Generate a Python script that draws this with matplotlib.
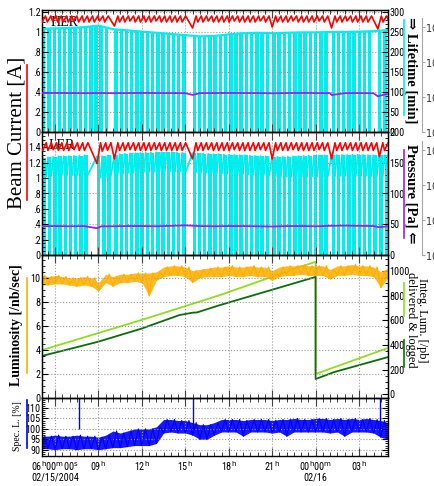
import numpy as np
import matplotlib
matplotlib.use("Agg")
import matplotlib.pyplot as plt
from matplotlib import font_manager as fm
from matplotlib.lines import Line2D
from matplotlib.ticker import MultipleLocator, FixedLocator, FuncFormatter, NullLocator

# ---------------- data (time in hours since 02/15 06:00) ----------------
hours = [0, 3, 6, 9, 12, 15, 18, 21]
hour_labels = [r"06$^{\rm h}$00$^{\rm m}$00$^{\rm s}$" + "\n02/15/2004",
               r"09$^{\rm h}$", r"12$^{\rm h}$", r"15$^{\rm h}$", r"18$^{\rm h}$",
               r"21$^{\rm h}$", r"00$^{\rm h}$00$^{\rm m}$" + "\n02/16", r"03$^{\rm h}$"]

# HER: injection start times, current at injection start (A)
her_inj = [-0.90, -0.53, -0.17, 0.19, 0.55, 0.91, 1.27, 1.63, 1.99, 2.35, 2.71, 3.07, 3.43,
           4.10, 4.46, 4.82, 5.18, 5.54, 5.90, 6.26, 6.62, 6.98, 7.34, 7.70, 8.06, 8.42, 8.78,
           9.50, 9.86, 10.22, 10.58, 10.94, 11.30, 11.66, 12.02, 12.38, 12.74, 13.10, 13.46, 13.82, 14.18, 14.54,
           15.00, 15.36, 15.72, 16.08, 16.44, 16.80, 17.16, 17.52, 17.88, 18.24, 18.60,
           19.10, 19.46, 19.82, 20.18, 20.54, 20.90, 21.26, 21.62,
           22.30, 22.66]
her_low = [1.10, 1.10, 1.11, 1.10, 1.10, 1.10, 1.11, 1.10, 1.10, 1.10, 1.10, 1.11, 1.10,
           1.06, 1.10, 1.10, 1.11, 1.10, 1.10, 1.10, 1.10, 1.11, 1.10, 1.10, 1.10, 1.10, 1.10,
           1.04, 1.10, 1.10, 1.11, 1.10, 1.10, 1.10, 1.10, 1.11, 1.10, 1.10, 1.10, 1.10, 1.11, 1.10,
           1.05, 1.10, 1.10, 1.10, 1.11, 1.10, 1.10, 1.10, 1.10, 1.11, 1.10,
           1.04, 1.10, 1.10, 1.11, 1.10, 1.10, 1.10, 1.10,
           1.03, 1.10]
her_peak = 1.16
her_end = 1.13
inj_len = 0.24

# HER lifetime (min), hourly
lt_t = [-0.9, 0, 1, 2, 3, 4, 5, 6, 7, 8, 9, 10, 11, 12, 13, 14, 15, 16, 17, 18, 19, 20, 21, 22, 23]
her_lt = [258, 259, 260, 262, 266, 257, 254, 251, 248, 245, 242, 239, 240, 244, 247, 248,
          247, 248, 249, 249, 250, 250, 251, 252, 255]

# LER
ler_inj = [-0.85, -0.49, -0.13, 0.23, 0.59, 0.95, 1.31, 1.67, 2.03,
           2.90, 3.26, 3.62,
           4.10, 4.46, 4.82, 5.18, 5.54, 5.90, 6.26, 6.62, 6.98, 7.34, 7.70, 8.06, 8.42, 8.78,
           9.50, 9.86, 10.22, 10.58, 10.94, 11.30, 11.66, 12.02, 12.38, 12.74, 13.10, 13.46, 13.82, 14.18, 14.54,
           15.00, 15.36, 15.72, 16.08, 16.44, 16.80, 17.16, 17.52, 17.88, 18.24, 18.60,
           19.10, 19.46, 19.82, 20.18, 20.54, 20.90, 21.26, 21.62, 21.98,
           22.40, 22.76]
ler_low = [1.36, 1.36, 1.37, 1.36, 1.36, 1.36, 1.37, 1.36, 1.36,
           1.19, 1.35, 1.36,
           1.25, 1.36, 1.36, 1.37, 1.36, 1.36, 1.36, 1.36, 1.37, 1.36, 1.36, 1.36, 1.36, 1.36,
           1.25, 1.36, 1.36, 1.37, 1.36, 1.36, 1.36, 1.36, 1.37, 1.36, 1.36, 1.36, 1.36, 1.37, 1.36,
           1.25, 1.36, 1.36, 1.36, 1.37, 1.36, 1.36, 1.36, 1.36, 1.37, 1.36,
           1.25, 1.36, 1.36, 1.37, 1.36, 1.36, 1.36, 1.36, 1.36,
           1.28, 1.36]
ler_peak = 1.46
ler_end = 1.42
ler_lt_hi = [158, 160, 161, 162, 160, 163, 165, 166, 167, 167, 166, 165, 164, 163, 162, 161,
             160, 160, 161, 162, 162, 163, 163, 162, 162]
ler_lt_lo = [128, 130, 130, 131, 125, 132, 134, 135, 136, 136, 135, 134, 133, 132, 131, 130,
             128, 127, 127, 128, 128, 129, 129, 128, 128]

# Pressure (Pa)
her_p_t = [-0.9, 0, 1, 2, 3, 4, 5, 6, 7, 8, 9, 9.5, 10, 11, 12, 13, 14, 15, 16, 17, 18, 19, 19.1, 20, 21, 22, 22.3, 23]
her_p = [1.30e-8, 1.31e-8, 1.30e-8, 1.29e-8, 1.30e-8, 1.29e-8, 1.30e-8, 1.31e-8, 1.30e-8, 1.30e-8, 1.29e-8,
         1.15e-8, 1.29e-8, 1.30e-8, 1.31e-8, 1.30e-8, 1.30e-8, 1.28e-8, 1.30e-8, 1.31e-8, 1.30e-8, 1.29e-8,
         1.14e-8, 1.29e-8, 1.30e-8, 1.28e-8, 1.05e-8, 1.25e-8]
ler_p_t = [-0.9, 0, 1, 2, 2.9, 3.2, 4, 5, 6, 7, 8, 9, 10, 11, 12, 13, 14, 15, 16, 17, 18, 19, 20, 21, 22, 22.4, 23]
ler_p = [6.6e-9, 6.7e-9, 6.6e-9, 6.7e-9, 5.8e-9, 6.6e-9, 6.6e-9, 6.7e-9, 6.7e-9, 6.6e-9, 6.8e-9, 7.0e-9,
         6.7e-9, 6.6e-9, 6.7e-9, 6.7e-9, 6.6e-9, 6.5e-9, 6.7e-9, 6.7e-9, 6.6e-9, 6.8e-9, 6.9e-9, 6.8e-9,
         6.7e-9, 6.2e-9, 6.6e-9]

# Luminosity (/nb/sec) and specific luminosity (%) envelopes, half-hourly
env_t = [-0.9, -0.5, 0.0, 0.5, 1.0, 1.5, 2.0, 2.5, 3.0, 3.5, 4.0, 4.5, 5.0, 5.5, 6.0, 6.5, 7.0, 7.5,
         8.0, 8.5, 9.0, 9.5, 10.0, 10.5, 11.0, 11.5, 12.0, 12.5, 13.0, 13.5, 14.0, 14.5, 15.0, 15.5,
         16.0, 16.5, 17.0, 17.5, 18.0, 18.5, 19.0, 19.5, 20.0, 20.5, 21.0, 21.5, 22.0, 22.5, 23.0]
lum_lo = [9.4, 9.4, 9.5, 9.5, 9.4, 9.3, 9.4, 9.3, 8.9, 9.6, 9.3, 9.6, 9.6, 9.7, 9.6, 8.5, 9.8, 10.1,
          10.2, 10.2, 10.1, 9.6, 10.0, 10.1, 10.1, 10.1, 10.2, 10.1, 10.1, 10.2, 10.1, 10.1, 9.8, 10.1,
          10.2, 10.2, 10.3, 10.2, 10.2, 10.2, 9.9, 10.2, 10.2, 10.3, 10.2, 10.2, 10.1, 9.2, 10.0]
lum_hi = [10.2, 10.1, 10.2, 10.1, 10.0, 10.0, 10.1, 10.0, 9.6, 10.3, 10.1, 10.3, 10.3, 10.4, 10.4, 10.4, 10.5, 10.9,
          11.0, 11.0, 10.9, 10.6, 10.7, 10.8, 10.9, 10.9, 11.0, 10.9, 10.9, 11.0, 10.9, 10.9, 10.6, 10.9,
          11.0, 11.0, 11.1, 11.0, 11.0, 11.0, 10.7, 11.0, 11.0, 11.1, 11.0, 11.0, 10.9, 10.5, 10.8]
spec_lo = [90.5, 90.5, 90.0, 90.5, 90.5, 90.0, 90.5, 90.5, 90.0, 90.5, 91.0, 91.0, 91.5, 92.0, 92.0, 92.0, 93.0, 98.0,
           98.5, 98.0, 98.0, 97.0, 95.0, 95.0, 97.0, 98.5, 98.5, 98.5, 96.5, 98.5, 98.5, 98.5, 98.0, 98.5,
           96.5, 98.5, 98.5, 98.5, 98.5, 98.5, 98.0, 98.5, 96.5, 98.5, 98.5, 98.5, 98.0, 96.0, 95.0]
spec_hi = [96.5, 96.5, 97.0, 96.5, 96.5, 97.0, 96.5, 96.5, 96.0, 97.0, 99.0, 98.0, 99.0, 100.0, 100.0, 100.0, 101.0, 104.5,
           104.5, 104.0, 104.0, 103.0, 102.0, 102.0, 103.0, 104.5, 104.5, 104.5, 104.0, 104.5, 104.5, 104.5, 104.0, 104.5,
           104.5, 105.0, 104.5, 104.5, 105.0, 105.0, 104.5, 105.0, 104.5, 105.0, 104.5, 105.0, 104.5, 104.0, 103.0]
spike_t = [1.66, 9.52, 22.48]
spike_top = [115, 115, 115]

# Integrated luminosity (/pb): delivered and logged
deliv_t = [-0.9, 5.9, 11.4, 16.7, 18.0, 18.0, 23.0]
deliv_v = [359, 600, 805, 1024, 1075, 165, 376]
logged_t = [-0.9, 2.9, 5.9, 8.6, 9.5, 9.8, 11.4, 18.0, 18.0, 19.3, 23.0]
logged_v = [311, 424, 530, 643, 662, 664, 724, 952, 124, 181, 302]

# ---------------- fonts ----------------
def _find(fam, stretch):
    try:
        return fm.findfont(fm.FontProperties(family=fam, stretch=stretch), fallback_to_default=False)
    except Exception:
        return None

NARROW, STRETCH, TSIZE = ["DejaVu Sans"], "normal", 6.3
for fam, st in [("Liberation Sans Narrow", "normal"), ("Roboto Condensed", "normal"),
                ("Noto Sans Condensed", "normal"), ("DejaVu Sans Condensed", "normal"),
                ("Open Sans Condensed", "normal"), ("Noto Sans", "condensed"),
                ("DejaVu Sans", "condensed"), ("Roboto", "condensed"), ("Open Sans", "condensed")]:
    p = _find(fam, st)
    if p and ("arrow" in p or "ondensed" in p):
        NARROW, STRETCH, TSIZE = [fam, "DejaVu Sans"], st, 7.3
        break

SERIF = ["Liberation Serif", "DejaVu Serif"]

# ---------------- figure ----------------
W, H = 435, 486
fig = plt.figure(figsize=(W / 100, H / 100), dpi=100)
fig.patch.set_facecolor("white")

def rect(x0, y0, x1, y1):
    return [x0 / W, 1 - y1 / H, (x1 - x0) / W, (y1 - y0) / H]

XL = (-0.9, 23.0)
C_RED, C_CYAN, C_PUR = "#ff0000", "#00eeee", "#9a1ff0"
C_ORA, C_LG, C_DG, C_BLUE = "#ffb000", "#8ee01c", "#0a6e0a", "#0000ff"
GRID = dict(color="#9a9a9a", linestyle=":", linewidth=0.8)

def fontify(labels, size=None):
    for lab in labels:
        lab.set_family(NARROW)
        lab.set_stretch(STRETCH)
        lab.set_fontsize(size or TSIZE)

def style_x(ax, grid=True):
    ax.set_xlim(*XL)
    ax.xaxis.set_major_locator(FixedLocator(hours))
    ax.xaxis.set_minor_locator(MultipleLocator(0.5))
    ax.tick_params(axis="x", which="both", direction="in", top=True, bottom=True, labelbottom=False)
    ax.tick_params(axis="x", which="major", length=6, width=0.8, color="#444444")
    ax.tick_params(axis="x", which="minor", length=3, width=0.6, color="#222222")
    if grid:
        ax.xaxis.grid(True, which="major", **GRID)
    for s in ax.spines.values():
        s.set_linewidth(1.0)

def style_y(ax, major, minor, fmt, side="left"):
    ax.yaxis.set_major_locator(MultipleLocator(major))
    ax.yaxis.set_minor_locator(MultipleLocator(minor))
    ax.yaxis.set_major_formatter(FuncFormatter(fmt))
    kw = dict(direction="in", pad=1.0)
    if side == "left":
        ax.tick_params(axis="y", which="both", left=True, right=False, labelleft=True, labelright=False, **kw)
    else:
        ax.tick_params(axis="y", which="both", left=False, right=True, labelleft=False, labelright=True, **kw)
    ax.tick_params(axis="y", which="major", length=4.5, width=0.8)
    ax.tick_params(axis="y", which="minor", length=2.2, width=0.6)
    fontify(ax.get_yticklabels())

def dotfmt(limit=None):
    def f(v, pos):
        if limit is not None and v > limit:
            return ""
        s = f"{v:.1f}".rstrip("0").rstrip(".")
        if s.startswith("0."):
            s = s[1:]
        return s
    return f

def intfmt(limit=None):
    def f(v, pos):
        if limit is not None and v > limit:
            return ""
        return f"{v:.0f}"
    return f

def saw(inj, low, peak, end):
    tt, vv = [], []
    for t0, lo in zip(inj, low):
        tt += [t0, t0 + inj_len]
        vv += [lo, peak]
    tt.append(XL[1])
    vv.append(end)
    return tt, vv

def log_axis(host, ylim_hi, bound_hi):
    axp = host.twinx()
    axp.set_yscale("log")
    axp.set_ylim(1e-9, ylim_hi)
    axp.spines["right"].set_position(("outward", 24.5))
    axp.spines["right"].set_color("#a8a8a8")
    axp.spines["right"].set_bounds(1e-9, bound_hi)
    for k in ("left", "top", "bottom"):
        axp.spines[k].set_visible(False)
    axp.yaxis.set_major_locator(FixedLocator([1e-9, 1e-8, 1e-7, 1e-6]))
    axp.yaxis.set_minor_locator(NullLocator())
    axp.tick_params(axis="y", which="major", direction="out", length=2, color="#a8a8a8",
                    labelsize=7, pad=0.3, labelcolor="#333333")
    return axp

def zig(t, lo, hi):
    zt, zv = [], []
    for i in range(len(t) - 1):
        zt += [t[i], 0.5 * (t[i] + t[i + 1])]
        zv += [lo[i], hi[i]]
    zt.append(t[-1]); zv.append(lo[-1])
    return zt, zv

# ---------- panel 1: HER ----------
ax1 = fig.add_axes(rect(42, 10, 388, 132))
ax1r = ax1.twinx()
ax1p = log_axis(ax1, 10 ** -5.51, 10 ** -5.74)
ax1r.set_zorder(1); ax1.set_zorder(2); ax1p.set_zorder(3)
ax1.patch.set_visible(False)

ax1r.set_ylim(0, 305)
ax1r.yaxis.grid(True, **GRID)
her_lvl = np.interp(her_inj, lt_t, her_lt)
for t0, lv in zip(her_inj, her_lvl):
    ax1r.fill_between([t0, t0 + inj_len], 0, lv, color=C_CYAN, lw=0)
ax1r.plot(lt_t, her_lt, color=C_CYAN, lw=1.6)
style_y(ax1r, 50, 10, intfmt(), side="right")

ax1.set_ylim(0, 1.22)
t, v = saw(her_inj, her_low, her_peak, her_end)
ax1.text(-0.3, 1.10, "HER", family=SERIF, fontsize=10, va="center", zorder=1)
ax1.plot(t, v, color=C_RED, lw=1.2, zorder=3)
style_x(ax1)
style_y(ax1, 0.2, 0.05, dotfmt())
ax1p.plot(her_p_t, her_p, color=C_PUR, lw=1.3)

# ---------- panel 2: LER ----------
ax2 = fig.add_axes(rect(42, 132, 388, 255))
ax2r = ax2.twinx()
ax2p = log_axis(ax2, 10 ** -5.49, 10 ** -5.74)
ax2r.set_zorder(1); ax2.set_zorder(2); ax2p.set_zorder(3)
ax2.patch.set_visible(False)

ax2r.set_ylim(0, 200)
ax2r.yaxis.grid(True, **GRID)
lhi = np.interp(ler_inj, lt_t, ler_lt_hi)
llo = np.interp(ler_inj, lt_t, ler_lt_lo)
ct, cv = [], []
for i, t0 in enumerate(ler_inj):
    ax2r.fill_between([t0, t0 + inj_len], 0, lhi[i], color=C_CYAN, lw=0)
    ct += [t0, t0 + inj_len]
    cv += [lhi[i], llo[i]]
ct.append(XL[1]); cv.append(ler_lt_hi[-1])
ax2r.plot(ct, cv, color=C_CYAN, lw=1.3)
style_y(ax2r, 50, 10, intfmt(), side="right")

ax2.set_ylim(0, 1.6)
t, v = saw(ler_inj, ler_low, ler_peak, ler_end)
ax2.text(-0.45, 1.43, "LER", family=SERIF, fontsize=10, va="center", zorder=1)
ax2.plot(t, v, color=C_RED, lw=1.2, zorder=3)
style_x(ax2)
style_y(ax2, 0.2, 0.05, dotfmt(limit=1.5))
ax2p.plot(ler_p_t, ler_p, color=C_PUR, lw=1.3)

# ---------- panel 3: luminosity ----------
ax3 = fig.add_axes(rect(42, 255, 388, 398))
ax3r = ax3.twinx()
ax3r.set_zorder(1); ax3.set_zorder(2)
ax3.patch.set_visible(False)
ax3r.set_ylim(-30, 1130)
ax3r.plot(deliv_t, deliv_v, color=C_LG, lw=1.3)
ax3r.plot(logged_t, logged_v, color=C_DG, lw=1.3)
style_y(ax3r, 200, 50, intfmt(), side="right")

ax3.set_ylim(0, 11.9)
ax3.yaxis.grid(True, **GRID)
ax3.fill_between(env_t, lum_lo, lum_hi, color=C_ORA, lw=0, alpha=0.85)
zt, zv = zig(env_t, lum_lo, lum_hi)
ax3.plot(zt, zv, color=C_ORA, lw=0.9)
style_x(ax3)
style_y(ax3, 2, 0.5, intfmt(limit=11))

# ---------- panel 4: specific luminosity ----------
ax4 = fig.add_axes(rect(42, 398, 388, 456))
ax4.set_ylim(87, 114.8)
ax4.yaxis.grid(True, **GRID)
ax4.fill_between(env_t, spec_lo, spec_hi, color=C_BLUE, lw=0, alpha=0.9)
zt, zv = zig(env_t, spec_lo, spec_hi)
ax4.plot(zt, zv, color=C_BLUE, lw=0.8)
ax4.vlines(spike_t, 100, spike_top, color=C_BLUE, lw=1.0)
style_x(ax4)
style_y(ax4, 5, 1, intfmt(limit=111))
ax4.tick_params(axis="y", which="both", right=True)
ax4.set_xticklabels(hour_labels)
ax4.tick_params(axis="x", labelbottom=True, pad=2)
fontify(ax4.get_xticklabels())
for lab in ax4.get_xticklabels():
    lab.set_linespacing(1.0)

# ---------- axis titles with colour keys ----------
def ftext(x, y, s, rot, **kw):
    fig.text(x / W, 1 - y / H, s, rotation=rot, ha="center", va="center", **kw)

def fline(x, y0, y1, c, lw=1.2):
    fig.add_artist(Line2D([x / W, x / W], [1 - y0 / H, 1 - y1 / H], color=c, lw=lw,
                          transform=fig.transFigure))

ftext(17, 133, "Beam Current [A]", 90, family=SERIF, fontsize=15)
fline(27, 65, 200, C_RED)
ftext(411, 70, "\u21d2 Lifetime [min]", -90, family=SERIF, fontsize=10.5, fontweight="bold")
fline(404, 20, 115, C_CYAN)
ftext(411, 194, "Pressure [Pa] \u21d0", -90, family=SERIF, fontsize=10.5, fontweight="bold")
fline(404, 150, 238, C_PUR)
ftext(17, 325, "Luminosity [/nb/sec]", 90, family=SERIF, fontsize=10, fontweight="bold")
fline(27, 278, 373, C_ORA)
ftext(416.5, 320, "Integ. Lum. [/pb]\ndelivered & logged", -90, family=SERIF, fontsize=8.8,
      linespacing=0.85, multialignment="center")
fline(404, 283, 316, C_LG)
fline(404, 340, 367, C_DG)
ftext(18, 426, "Spec. L. [%]", 90, family=SERIF, fontsize=7)
fline(27, 400, 448, C_BLUE)

fig.savefig("out.png", dpi=100, facecolor="white")
